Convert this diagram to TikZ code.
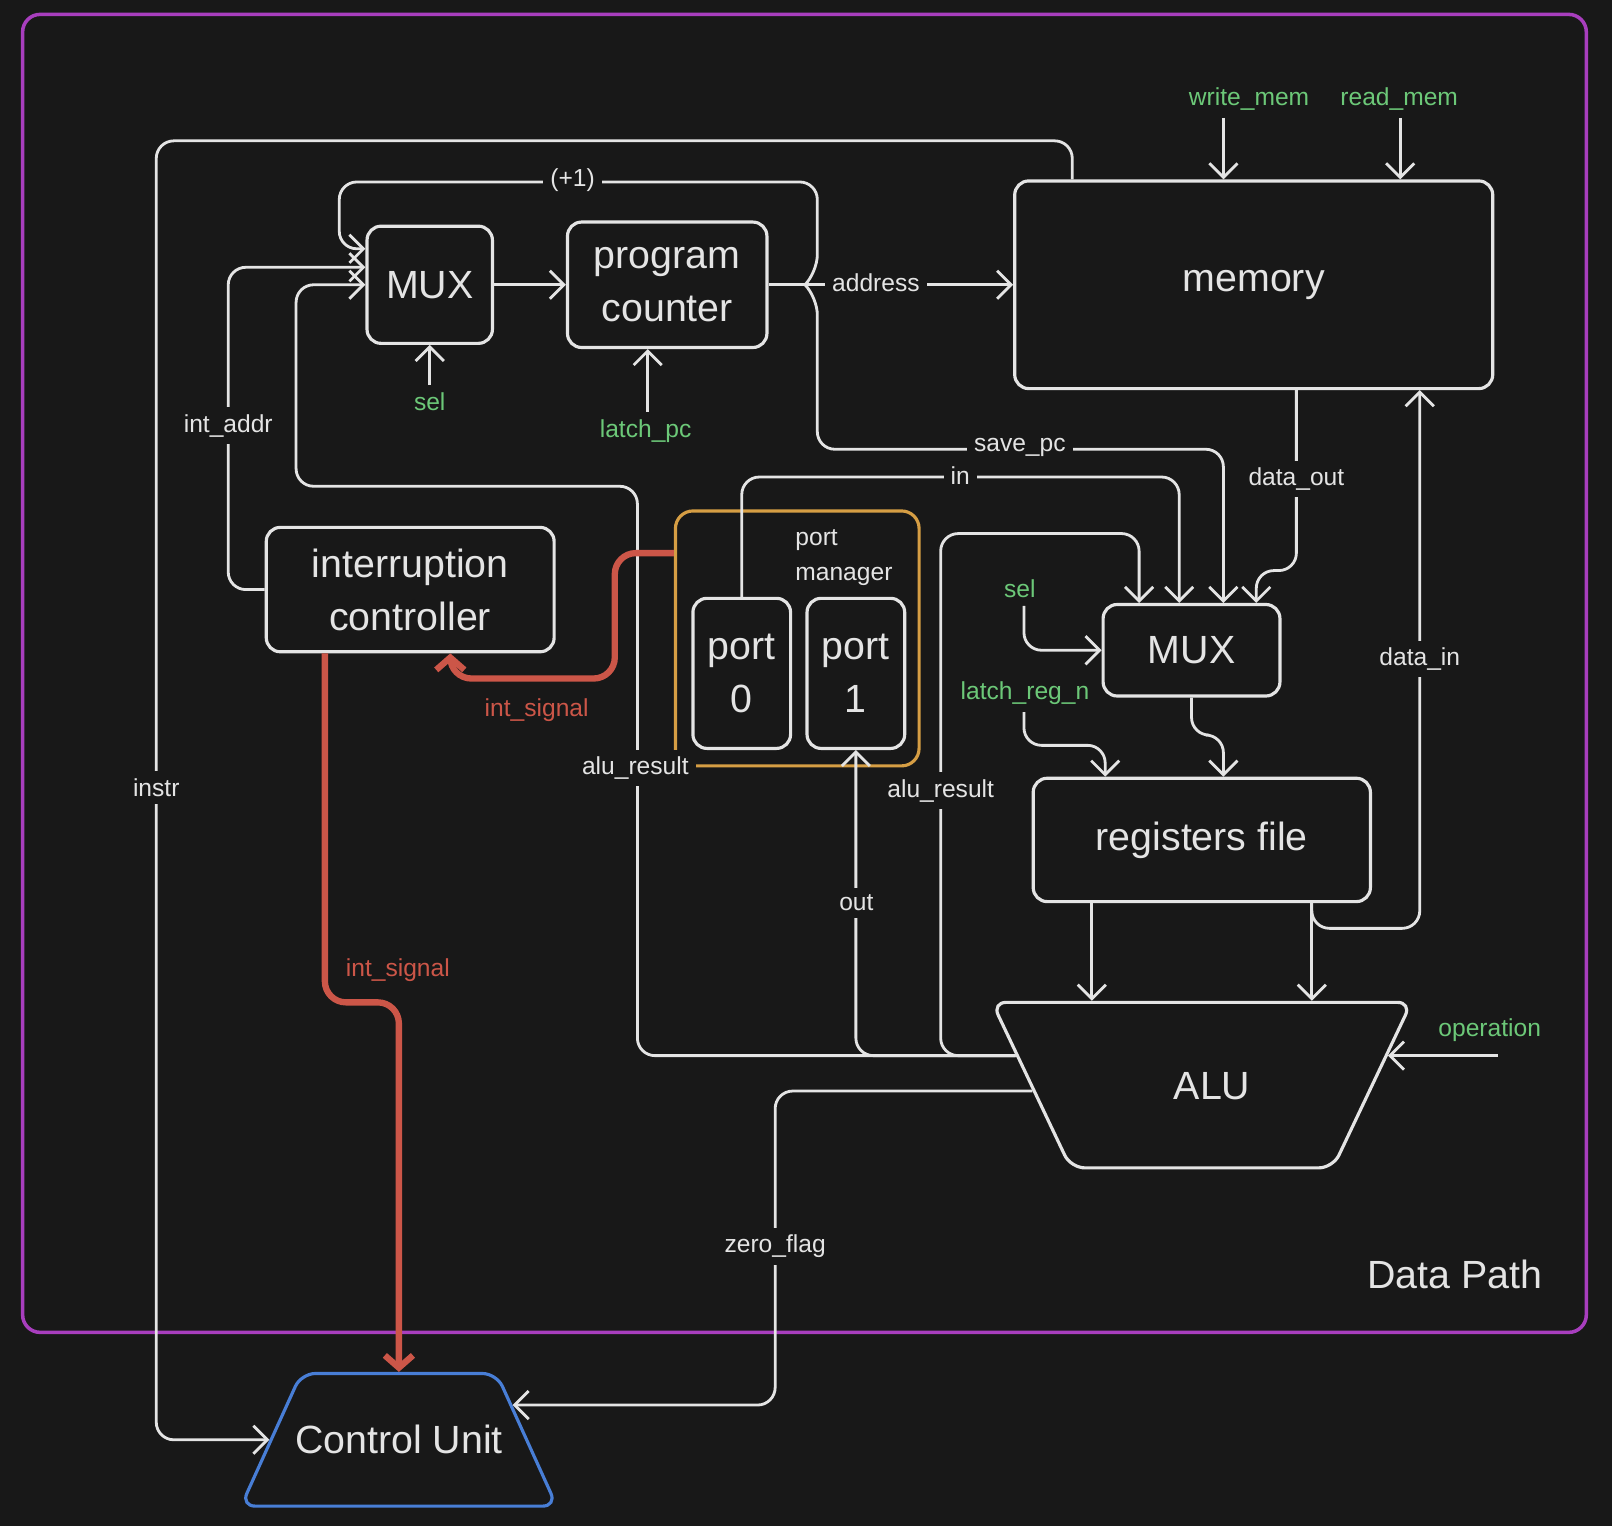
\documentclass[tikz,border=0pt]{standalone}
\usepackage{fontspec}
\setmainfont{Liberation Sans}
\usepackage{tikz}
\usetikzlibrary{arrows.meta,positioning,calc,shapes.geometric}

\definecolor{bg}{RGB}{24,24,24}
\definecolor{fg}{RGB}{228,228,228}
\definecolor{ctlgreen}{RGB}{108,200,120}
\definecolor{sigred}{RGB}{204,86,72}
\definecolor{pmorange}{RGB}{214,158,68}
\definecolor{cublue}{RGB}{72,126,214}
\definecolor{dpurple}{RGB}{168,62,190}

\newlength\px
\setlength\px{0.01028cm}
\newcommand\boxfont{\fontsize{11.2}{15}\selectfont}
\newcommand\lblfont{\fontsize{7}{10}\selectfont}

\begin{document}
\begin{tikzpicture}[
  x=0.01028cm, y=-0.01028cm,
  box/.style={draw=fg,fill=bg,text=fg,rounded corners=4pt,line width=0.9pt,font=\boxfont,align=center,inner sep=0pt},
  trap/.style={trapezium,draw=fg,fill=bg,text=fg,rounded corners=4pt,line width=0.9pt,font=\boxfont,
               text height=8pt,text depth=0pt,minimum width=0pt,minimum height=0pt},
  wire/.style={draw=fg,line width=0.8pt,rounded corners=5pt},
  arr/.style={wire,-{Straight Barb[length=4pt,width=8pt]}},
  intsig/.style={draw=sigred,line width=1.8pt,rounded corners=6pt,-{Straight Barb[length=3.5pt,width=8pt]}},
  lbl/.style={fill=bg,text=fg,font=\lblfont,inner sep=2pt},
  ctl/.style={text=ctlgreen,font=\lblfont,inner sep=2pt}
]

\useasboundingbox (0,0) rectangle (1568,1484);
\fill[bg] (0,0) rectangle (1568,1484);

% data path frame
\node[draw=dpurple,line width=1pt,rounded corners=5pt,minimum width=1521\px,minimum height=1282\px] (datapath) at (782.5,655) {};
\node[text=fg,font=\boxfont] (dptitle) at (1415,1240) {Data Path};

% blocks
\node[box,minimum width=122\px,minimum height=114\px] (muxa) at (418,277) {MUX};
\node[box,minimum width=194\px,minimum height=122\px] (pc) at (649,277) {program\\counter};
\node[box,minimum width=465\px,minimum height=202\px] (mem) at (1219.5,277) {memory};
\node[box,minimum width=280\px,minimum height=121\px] (intc) at (399,573.5) {interruption\\controller};
\node[draw=pmorange,fill=bg,rounded corners=5pt,line width=0.9pt,minimum width=237\px,minimum height=248\px] (pm) at (775.5,621) {};
\node[text=fg,font=\lblfont,align=left,anchor=west,inner sep=0pt] (pmtitle) at (773,542) {port\\manager};
\node[box,minimum width=95\px,minimum height=146\px] (p0) at (721.5,655) {port\\0};
\node[box,minimum width=95\px,minimum height=146\px] (p1) at (832.5,655) {port\\1};
\node[box,minimum width=172\px,minimum height=89\px] (muxb) at (1159,632.5) {MUX};
\node[box,minimum width=328\px,minimum height=120\px] (regs) at (1169,817) {registers file};
\node[trap,shape border rotate=180,trapezium left angle=64.6,trapezium right angle=64.6,
      inner xsep=127.5\px,inner ysep=80.5\px-4pt] (alu) at (1169,1055.5) {\makebox[0pt]{\hspace{20\px}ALU}};
\node[trap,draw=cublue,trapezium left angle=65.6,trapezium right angle=65.6,
      inner xsep=95\px,inner ysep=64.5\px-4pt] (cu) at (388,1400.5) {\makebox[0pt]{Control Unit}};

% control inputs
\node[ctl] (sela) at (418,391) {sel};
\node[ctl] (lpc) at (628,419) {latch\_pc};
\node[ctl] (wmem) at (1215,96) {write\_mem};
\node[ctl] (rmem) at (1361,96) {read\_mem};
\node[ctl] (selb) at (992,573) {sel};
\node[ctl] (lreg) at (997,674) {latch\_reg\_n};
\node[ctl] (oper) at (1449,1002) {operation};

\coordinate (split) at (783,277);

% wires
\draw[arr] (1043,0 |- mem.north) -- (1043,137) -- (152,137) |- (cu.west);
\draw[wire] (pc.east) -- (split);
\draw[arr] (split) -- (mem.west);
\draw[arr] (split) -- (795,265) -- (795,177) -- (330,177) -- (330,242) -- (muxa.west |- 0,242);
\draw[arr] (split) -- (795,289) -- (795,437) -- (1190,437) -- (1190,0 |- muxb.north);
\draw[arr] (intc.west) -| (222,260) -- (muxa.west |- 0,260);
\draw[arr] (alu.171) -| (620,473) -| (288,277) -- (muxa.west);
\draw[arr] (alu.171) -| (p1.south);
\draw[arr] (alu.171) -| (915,519) -| (muxb.north -| 1108,0);
\draw[arr] (muxa.east) -- (pc.west);
\draw[arr] (sela.north) -- (muxa.south);
\draw[arr] (lpc.north -| 630,0) -- (630,0 |- pc.south);
\draw[arr] (p0.north) |- (1147,464) -- (1147,0 |- muxb.north);
\draw[arr] (1261,0 |- mem.south) -- (1261,555) -- (1222,555) -- (1222,0 |- muxb.north);
\draw[arr] (selb.south -| 996,0) |- (muxb.west);
\draw[arr] (lreg.south -| 996,0) |- (1075,725) -- (regs.north -| 1075,0);
\draw[arr] (muxb.south) |- (1190,715) -- (regs.north -| 1190,0);
\draw[arr] (1062,0 |- regs.south) -- (1062,0 |- alu.90);
\draw[arr] (1276,0 |- regs.south) -- (1276,0 |- alu.90);
\draw[arr] (1276,0 |- regs.south) |- (1381,903) -- (1381,0 |- mem.south);
\draw[arr] (1457,0 |- alu.9) -- (alu.9);
\draw[arr] (alu.182) -| (cu.17 -| 754,0) -- (cu.17);
\draw[arr] (1190,0 |- wmem.south) -- (1190,0 |- mem.north);
\draw[arr] (1362,0 |- rmem.south) -- (1362,0 |- mem.north);

% interrupt signal
\draw[intsig] (pm.west |- 0,538) -| (598,660) -| (intc.south -| 438,0);
\draw[intsig] (intc.south -| 316,0) |- (388,975) -- (cu.north);

% wire labels
\node[lbl] (plusone) at (557,175) {(+1)};
\node[lbl] (addr) at (852,275) {address};
\node[lbl] (savepc) at (992,435) {save\_pc};
\node[lbl] (inl) at (934,463) {in};
\node[lbl] (intaddr) at (222,414) {int\_addr};
\node[lbl] (dout) at (1261,466) {data\_out};
\node[lbl] (alures) at (618,747) {alu\_result};
\node[lbl] (alurestwo) at (915,769) {alu\_result};
\node[lbl] (outl) at (833,878) {out};
\node[lbl] (din) at (1381,641) {data\_in};
\node[lbl] (instr) at (152,766) {instr};
\node[lbl] (zflag) at (754,1212) {zero\_flag};
\node[text=sigred,font=\lblfont] (isigone) at (522,691) {int\_signal};
\node[text=sigred,font=\lblfont] (isigtwo) at (387,944) {int\_signal};

\end{tikzpicture}
\end{document}
